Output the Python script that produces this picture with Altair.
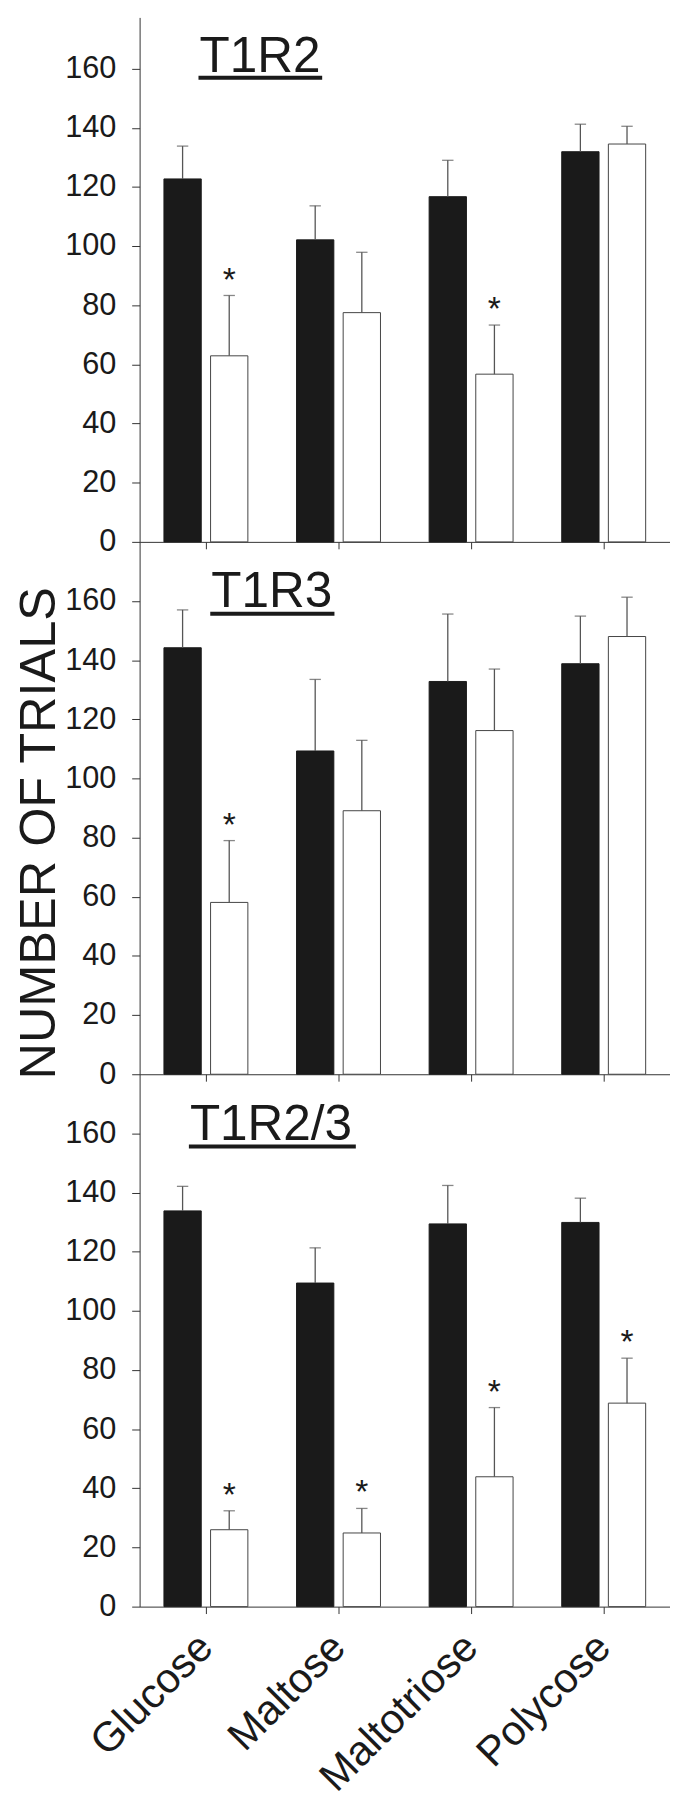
import altair as alt
import pandas as pd

sugars = ["Glucose", "Maltose", "Maltotriose", "Polycose"]
groups = ["control", "knockout"]
panel_names = ["T1R2", "T1R3", "T1R2/3"]

# mean values (bar tops) and upper ends of the error bars
t1r2_black = [122.7, 102.1, 116.7, 131.9]
t1r2_black_up = [133.8, 113.6, 129.0, 141.2]
t1r2_white = [62.9, 77.5, 56.7, 134.5]
t1r2_white_up = [83.3, 97.9, 73.3, 140.5]
t1r2_sig = [True, False, True, False]

t1r3_black = [144.2, 109.3, 132.8, 138.8]
t1r3_black_up = [157.0, 133.5, 155.6, 154.9]
t1r3_white = [58.1, 89.1, 116.2, 148.0]
t1r3_white_up = [79.0, 112.9, 137.0, 161.3]
t1r3_sig = [True, False, False, False]

t1r23_black = [133.8, 109.4, 129.4, 129.9]
t1r23_black_up = [142.1, 121.3, 142.4, 138.1]
t1r23_white = [26.0, 24.9, 43.9, 68.8]
t1r23_white_up = [32.4, 33.2, 67.3, 84.0]
t1r23_sig = [True, True, True, True]

y_ticks = [0, 20, 40, 60, 80, 100, 120, 140, 160]

FONT = "Liberation Sans"
INK = "#1a1a1a"
W = 536


def panel(name, bm, bu, wm, wu, sig, height, ymax, tx, ty, ux2, uy,
          show_labels, ytitle):
    df = pd.DataFrame({
        "sugar": sugars * 2,
        "group": [groups[0]] * 4 + [groups[1]] * 4,
        "mean": bm + wm,
        "upper": bu + wu,
        "sig": [False] * 4 + sig,
    })
    base = alt.Chart(df)
    xaxis = alt.Axis(
        title=None, labels=show_labels, tickSize=7, labelAngle=315,
        labelAlign="right", labelBaseline="middle", labelPadding=27,
        labelFontSize=42, labelFont=FONT, labelColor=INK, labelLimit=400,
        domainColor="#333333", tickColor="#333333",
    )
    x = alt.X("sugar:N", sort=sugars, axis=xaxis,
              scale=alt.Scale(paddingInner=0.367, paddingOuter=0.1835))
    xo = alt.XOffset("group:N", sort=groups,
                     scale=alt.Scale(paddingInner=0.2, paddingOuter=0))
    common = dict(
        values=y_ticks, tickSize=8, labelPadding=16, labelFontSize=31,
        labelFont=FONT, labelColor=INK, grid=False,
        domainColor="#333333", tickColor="#333333",
    )
    if ytitle:
        yaxis = alt.Axis(
            title=ytitle, titleFont=FONT, titleFontSize=51,
            titleFontWeight="normal", titleColor=INK, titleAngle=270,
            titleX=-125.5, titleY=294, titleAlign="center",
            titleBaseline="top", **common,
        )
    else:
        yaxis = alt.Axis(title=None, **common)
    yscale = alt.Scale(domain=[0, ymax], nice=False, zero=True)

    bars = base.mark_bar(strokeWidth=1).encode(
        x=x, xOffset=xo,
        y=alt.Y("mean:Q", scale=yscale, axis=yaxis),
        fill=alt.Fill("group:N", sort=groups, legend=None,
                      scale=alt.Scale(domain=groups, range=[INK, "#ffffff"])),
        stroke=alt.Stroke("group:N", sort=groups, legend=None,
                          scale=alt.Scale(domain=groups,
                                          range=[INK, "#444444"])),
    )
    err = base.mark_rule(color="#555555", strokeWidth=1.3).encode(
        x=x, xOffset=xo,
        y=alt.Y("mean:Q", scale=yscale, axis=yaxis),
        y2="upper:Q",
    )
    caps = base.mark_tick(color="#555555", size=11.5, thickness=1.3).encode(
        x=x, xOffset=xo,
        y=alt.Y("upper:Q", scale=yscale, axis=yaxis),
    )
    stars = base.transform_filter("datum.sig").mark_text(
        text="*", fontSize=34, dy=-5, baseline="alphabetic", font=FONT,
        color=INK,
    ).encode(
        x=x, xOffset=xo,
        y=alt.Y("upper:Q", scale=yscale, axis=yaxis),
    )
    tdf = pd.DataFrame({"t": [name]})
    title = alt.Chart(tdf).mark_text(
        align="left", baseline="alphabetic", fontSize=50, font=FONT,
        color=INK,
    ).encode(text="t:N", x=alt.value(tx), y=alt.value(ty))
    underline = alt.Chart(tdf).mark_rule(strokeWidth=4, color=INK).encode(
        x=alt.value(tx - 1), x2=alt.value(ux2), y=alt.value(uy)
    )
    return alt.layer(bars, err, caps, stars, title, underline).properties(
        width=W, height=height
    )


p1 = panel(panel_names[0], t1r2_black, t1r2_black_up, t1r2_white,
           t1r2_white_up, t1r2_sig, 530, 177.3, 60.5, 54.7, 184.5, 61,
           False, None)
p2 = panel(panel_names[1], t1r3_black, t1r3_black_up, t1r3_white,
           t1r3_white_up, t1r3_sig, 538, 180, 72.4, 65.6, 196.9, 72.7,
           False, "NUMBER OF TRIALS")
p3 = panel(panel_names[2], t1r23_black, t1r23_black_up, t1r23_white,
           t1r23_white_up, t1r23_sig, 538, 180, 50.8, 66, 218.5, 73,
           True, None)

chart = alt.vconcat(p1, p2, p3, spacing=0, bounds="flush").properties(
    padding={"left": 6, "top": 0, "right": 0, "bottom": 0}
).configure_view(strokeWidth=0).resolve_scale(x="independent", y="independent")

chart.save("out.html", embed_options={"renderer": "svg", "actions": False})
